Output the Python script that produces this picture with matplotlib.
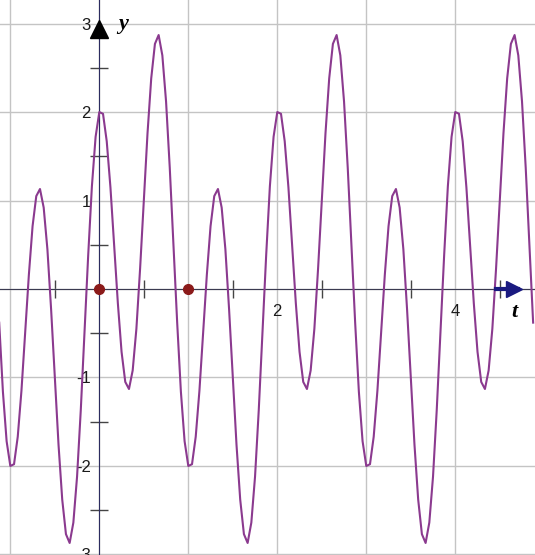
import matplotlib
matplotlib.use('Agg')
import matplotlib.pyplot as plt
import numpy as np
from matplotlib.ticker import FixedLocator

plt.rcParams['axes.unicode_minus'] = False
plt.rcParams['font.family'] = ['Liberation Sans', 'DejaVu Sans']

# sample points of the curve, read every 1/24 unit from t = -27/24 up to t = 117/24
t_step = 1 / 24
t = np.arange(-27, 118) * t_step
y = [-0.38, -1.16, -1.72, -2.00, -1.98, -1.67, -1.15, -0.50, 0.16, 0.71, 1.05, 1.13,
     0.92, 0.45, -0.23, -1.00, -1.76, -2.38, -2.77, -2.87, -2.64, -2.12, -1.37, -0.50,
     0.38, 1.16, 1.72,
     2.00, 1.98, 1.67, 1.15, 0.50, -0.16, -0.71, -1.05, -1.13, -0.92, -0.45, 0.23,
     1.00, 1.76, 2.38, 2.77, 2.87, 2.64, 2.12, 1.37, 0.50, -0.38, -1.16, -1.72,
     -2.00, -1.98, -1.67, -1.15, -0.50, 0.16, 0.71, 1.05, 1.13, 0.92, 0.45, -0.23,
     -1.00, -1.76, -2.38, -2.77, -2.87, -2.64, -2.12, -1.37, -0.50, 0.38, 1.16, 1.72,
     2.00, 1.98, 1.67, 1.15, 0.50, -0.16, -0.71, -1.05, -1.13, -0.92, -0.45, 0.23,
     1.00, 1.76, 2.38, 2.77, 2.87, 2.64, 2.12, 1.37, 0.50, -0.38, -1.16, -1.72,
     -2.00, -1.98, -1.67, -1.15, -0.50, 0.16, 0.71, 1.05, 1.13, 0.92, 0.45, -0.23,
     -1.00, -1.76, -2.38, -2.77, -2.87, -2.64, -2.12, -1.37, -0.50, 0.38, 1.16, 1.72,
     2.00, 1.98, 1.67, 1.15, 0.50, -0.16, -0.71, -1.05, -1.13, -0.92, -0.45, 0.23,
     1.00, 1.76, 2.38, 2.77, 2.87, 2.64, 2.12, 1.37, 0.50, -0.38]

# the two marked points on the t axis
marked_t = [0, 1]
marked_y = [0, 0]

x_grid = [-1, 0, 1, 2, 3, 4]
x_labels = ['', '', '', '2', '', '4']
y_grid = [-3, -2, -1, 0, 1, 2, 3]
y_labels = ['-3', '-2', '-1', '', '1', '2', '3']
x_half = [-0.5, 0.5, 1.5, 2.5, 3.5, 4.5]
y_half = [-2.5, -1.5, -0.5, 0.5, 1.5, 2.5]

fig = plt.figure(figsize=(5.35, 5.55), dpi=100)
ax = fig.add_axes([0, 0, 1, 1])
ax.set_xlim(-1.116, 4.896)
ax.set_ylim(-3.006, 3.266)

ax.spines['left'].set_position(('data', 0))
ax.spines['bottom'].set_position(('data', 0))
ax.spines['right'].set_visible(False)
ax.spines['top'].set_visible(False)
ax.spines['left'].set_color('#2c2c60')
ax.spines['bottom'].set_color('#3a3a50')

ax.set_xticks(x_grid)
ax.set_xticklabels(x_labels)
ax.set_yticks(y_grid)
ax.set_yticklabels(y_labels)
ax.xaxis.set_minor_locator(FixedLocator(x_half))
ax.yaxis.set_minor_locator(FixedLocator(y_half))
ax.tick_params(which='major', length=0, labelsize=12, labelcolor='#1a1a1a')
ax.tick_params(axis='x', which='major', pad=11)
ax.tick_params(axis='y', which='major', pad=6)
ax.tick_params(which='minor', direction='inout', length=13, width=1, color='#444444')
ax.grid(True, color='#c4c4c4', lw=1)
ax.set_axisbelow(True)

ax.plot(t, y, color='#8b3a8f', lw=1.5, zorder=3, solid_joinstyle='round')
ax.plot(marked_t, marked_y, 'o', color='#8b1a1a', ms=7, zorder=5)

# axis arrows
ax.plot(0, 2.94, marker='^', ms=13, color='black', zorder=6, clip_on=False)
ax.plot([4.46, 4.7], [0, 0], color='#1a1a80', lw=3, zorder=6)
ax.plot(4.66, 0, marker='>', ms=11, color='#1a1a80', zorder=6)

ax.text(0.27, 3.0, 'y', fontsize=16, family='Liberation Serif', style='italic',
        weight='bold', ha='center', va='center')
ax.text(4.67, -0.26, 't', fontsize=16, family='Liberation Serif', style='italic',
        weight='bold', ha='center', va='center')

fig.savefig('out.png', dpi=100)
